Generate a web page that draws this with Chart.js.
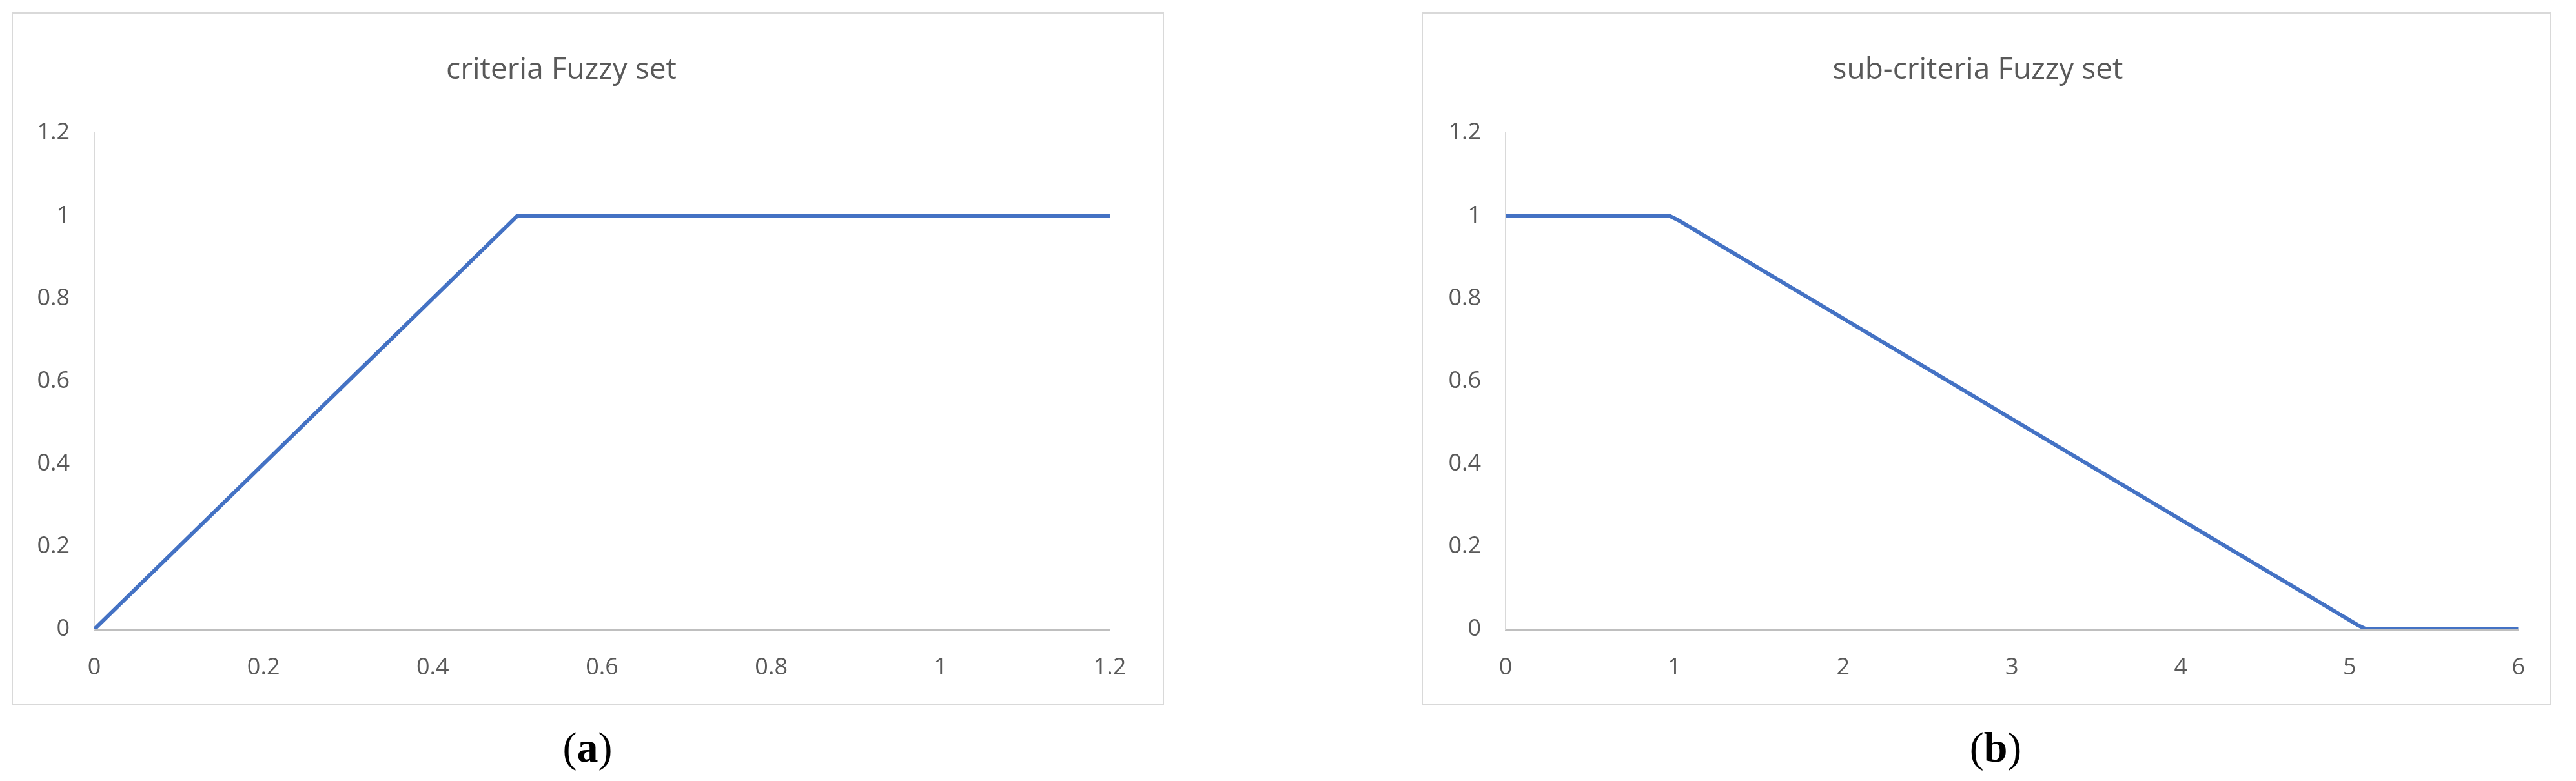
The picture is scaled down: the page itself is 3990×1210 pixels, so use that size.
<!DOCTYPE html>
<html>
<head>
<meta charset="utf-8">
<script src="https://cdn.jsdelivr.net/npm/chart.js@4/dist/chart.umd.min.js"></script>
<style>
body { margin: 0; background: #fff; width: 3990px; height: 1210px; position: relative; overflow: hidden; }
.frame { position: absolute; border: 2px solid #d9d9d9; box-sizing: border-box; }
.cap { position: absolute; font-family: "Liberation Serif", serif; font-size: 66px; color: #000; transform: translateX(-50%); }
</style>
</head>
<body>
<div class="frame" style="left:18px;top:19px;width:1785px;height:1073px;"><canvas id="chartA"></canvas></div>
<div class="frame" style="left:2202px;top:19px;width:1749px;height:1073px;"><canvas id="chartB"></canvas></div>
<div class="cap" style="left:910px;top:1120px;">(<b>a</b>)</div>
<div class="cap" style="left:3091px;top:1120px;">(<b>b</b>)</div>
<script>
// criteria fuzzy set
var critX = [0, 0.49, 0.5, 0.515, 0.53, 1.2];
var critY = [0, 0.98, 1.0, 1.0, 1.0, 1.0];
// sub-criteria fuzzy set
var subX = [0, 0.93, 0.97, 1.02, 5.05, 5.1, 6];
var subY = [1, 1, 1.0, 0.99, 0.01, 0, 0];

var yTicks = [0, 0.2, 0.4, 0.6, 0.8, 1, 1.2];

function toPoints(xs, ys) {
    return xs.map(function (x, i) { return {x: x, y: ys[i]}; });
}

function makeChart(id, title, xs, ys, xMax, xStep, yWidth, rightPad) {
    var font = "'Open Sans', sans-serif";
    return new Chart(document.getElementById(id), {
        type: 'line',
        data: {
            datasets: [{
                data: toPoints(xs, ys),
                borderColor: '#4472c4',
                borderWidth: 6,
                pointRadius: 0,
                tension: 0,
                fill: false
            }]
        },
        options: {
            responsive: false,
            animation: false,
            layout: {padding: {left: 0, right: rightPad, top: 0, bottom: 0}},
            plugins: {
                legend: {display: false},
                tooltip: {enabled: false},
                title: {
                    display: true,
                    text: title,
                    color: '#595959',
                    font: {family: font, size: 46, weight: 'normal', lineHeight: 1.2},
                    padding: {top: 60, bottom: 70}
                }
            },
            scales: {
                x: {
                    type: 'linear', min: 0, max: xMax,
                    grid: {display: false, drawTicks: false},
                    border: {color: '#bfbfbf', width: 3},
                    ticks: {
                        stepSize: xStep, color: '#595959', padding: 38,
                        font: {family: font, size: 36},
                        callback: function (v) { return String(+v.toFixed(1)); }
                    },
                    afterFit: function (s) { s.height = 115; }
                },
                y: {
                    min: 0, max: 1.2,
                    afterBuildTicks: function (s) { s.ticks = yTicks.map(function (v) { return {value: v}; }); },
                    grid: {display: false, drawTicks: false},
                    border: {color: '#d9d9d9', width: 2},
                    ticks: {
                        color: '#595959', padding: 38,
                        font: {family: font, size: 36},
                        callback: function (v) { return String(+v.toFixed(1)); }
                    },
                    afterFit: function (s) { s.width = yWidth; }
                }
            }
        }
    });
}

function sizeCanvas(id, w, h) {
    var c = document.getElementById(id);
    c.width = w; c.height = h;
    c.style.width = w + 'px'; c.style.height = h + 'px';
}

sizeCanvas('chartA', 1781, 1069);
sizeCanvas('chartB', 1745, 1069);
makeChart('chartA', 'criteria Fuzzy set', critX, critY, 1.2, 0.2, 126, 82);
makeChart('chartB', 'sub-criteria Fuzzy set', subX, subY, 6, 1, 128, 26);
</script>
</body>
</html>
